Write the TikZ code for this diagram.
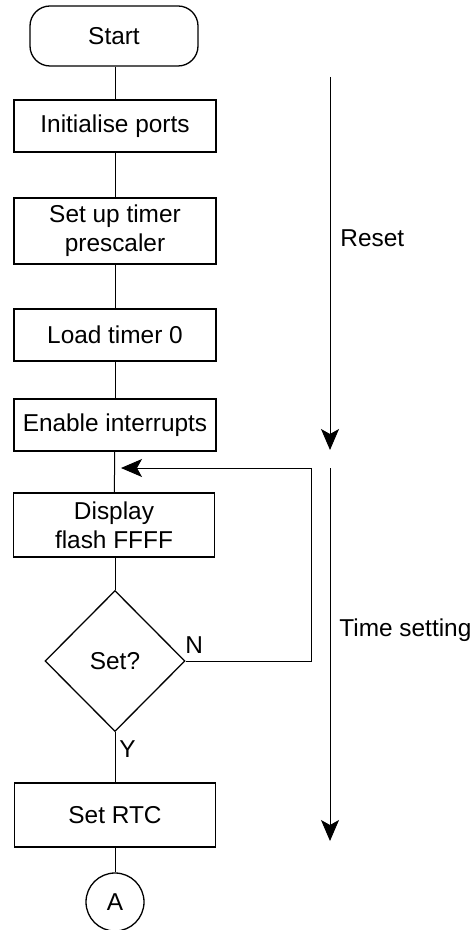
\documentclass[tikz,border=0pt]{standalone}
\usepackage{fontspec}
\setmainfont{Liberation Sans}
\usetikzlibrary{arrows.meta,shapes.geometric}
\begin{document}
\begin{tikzpicture}[x=0.5pt,y=-0.5pt,
  txt/.style={font=\fontsize{12.2}{14.5}\selectfont},
  box/.style={txt,draw,line width=0.65pt,minimum width=101pt,inner sep=0pt,align=center},
  conn/.style={line width=0.5pt},
  arr/.style={line width=0.5pt,-{Stealth[length=10.5pt,width=9pt,inset=2.5pt]}},
  lbl/.style={txt,inner sep=0pt}]
\useasboundingbox (0,0) rectangle (474,930);
\clip (0,0) rectangle (474,930);
\node[box,minimum width=84pt,minimum height=30pt,rounded corners=10pt] (start) at (114,36) {Start};
\node[box,minimum height=26pt] (init) at (115,126) {Initialise ports};
\node[box,minimum height=33pt] (setup) at (115,231) {Set up timer\\prescaler};
\node[box,minimum height=26pt] (load) at (115,335) {Load timer 0};
\node[box,minimum height=26pt] (enable) at (115,425) {Enable interrupts};
\node[box,minimum width=100.5pt,minimum height=32pt] (display) at (114,525) {Display\\flash FFFF};
\node[txt,draw,line width=0.65pt,diamond,minimum width=70pt,minimum height=70.5pt,inner sep=0pt] (dec) at (115,661) {Set?};
\node[box,minimum width=100.5pt,minimum height=32pt] (rtc) at (115,815) {Set RTC};
\node[txt,draw,line width=0.65pt,circle,minimum size=29pt,inner sep=0pt] (conA) at (115,902) {A};
\draw[conn] (start.south -| init.north) -- (init.north);
\draw[conn] (init) -- (setup);
\draw[conn] (setup) -- (load);
\draw[conn] (load) -- (enable);
\draw[conn] (enable) -- (display);
\draw[conn] (display.south -| dec.north) -- (dec.north);
\draw[conn] (dec) -- (rtc);
\draw[conn] (rtc) -- (conA);
\coordinate (loopR) at (311,468);
\coordinate (loopIn) at (121,468);
\draw[arr] (dec.east) -| (loopR) -- (loopIn);
\node[lbl,anchor=base west] (nlab) at (185,653) {N};
\node[lbl,anchor=base west] (ylab) at (119,757) {Y};
\coordinate (r1) at (330,77);
\coordinate (r2) at (330,450);
\coordinate (t1) at (330,468);
\coordinate (t2) at (330,841);
\draw[arr] (r1) -- (r2);
\draw[arr] (t1) -- (t2);
\node[lbl,anchor=base west] (reset) at (340,247) {Reset};
\node[lbl,anchor=base west] (tset) at (339,636) {Time setting};
\end{tikzpicture}
\end{document}
